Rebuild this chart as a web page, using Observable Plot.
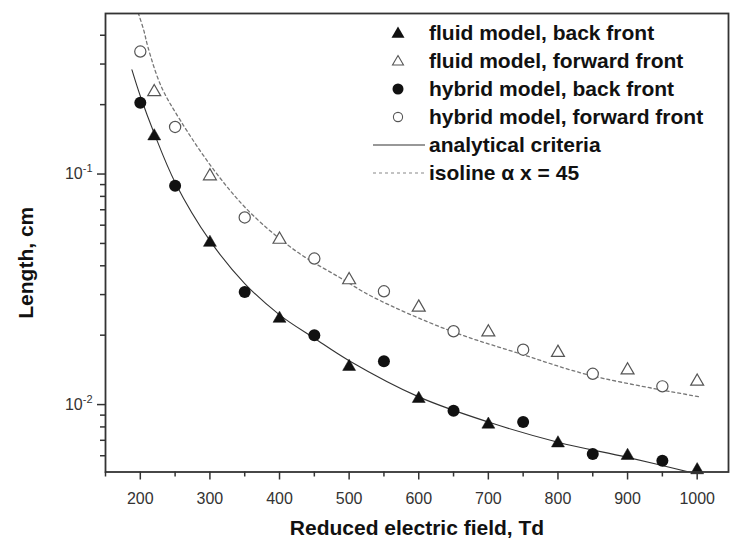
<!DOCTYPE html>
<html><head><meta charset="utf-8">
<script src="https://cdn.jsdelivr.net/npm/d3@7"></script>
<script src="https://cdn.jsdelivr.net/npm/@observablehq/plot@0.6"></script>
<style>
body{margin:0;background:#fff;}
#wrap{position:relative;width:730px;height:540px;font-family:"Liberation Sans",Arial,sans-serif;}
#legend{position:absolute;left:365px;top:19px;}
.row{height:28px;display:flex;align-items:center;font-weight:bold;font-size:21px;color:#111;white-space:nowrap;}
.row svg{flex:none;}
</style>
</head><body>
<div id="wrap"><div id="chart"></div><div id="legend"></div></div>
<script>
// ---- data ----
const fieldTriangles = [220, 300, 400, 500, 600, 700, 800, 900, 1000];
const fluidBack      = [0.146, 0.0504, 0.0236, 0.0146, 0.0106, 0.0082, 0.0068, 0.0060, 0.0052];
const fluidForward   = [0.227, 0.098, 0.052, 0.0347, 0.0264, 0.0206, 0.0168, 0.0141, 0.0126];
const fieldCircles   = [200, 250, 350, 450, 550, 650, 750, 850, 950];
const hybridBack     = [0.204, 0.089, 0.0308, 0.0200, 0.0154, 0.0094, 0.0084, 0.0061, 0.0057];
const hybridForward  = [0.340, 0.160, 0.0648, 0.043, 0.031, 0.0208, 0.0173, 0.0136, 0.0120];
const analyticX = [188, 200, 220, 250, 300, 350, 400, 450, 500, 600, 700, 800, 900, 1000];
const analyticL = [0.283, 0.218, 0.150, 0.092, 0.0514, 0.0335, 0.0245, 0.0194, 0.0155, 0.0108, 0.0084, 0.00687, 0.0059, 0.0050];
const isoX = [197, 205, 211, 230, 258, 308, 358, 425, 487, 535, 645, 746, 846, 1004];
const isoL = [0.50, 0.42, 0.355, 0.24, 0.17, 0.102, 0.068, 0.046, 0.0355, 0.0292, 0.0209, 0.0166, 0.0134, 0.0108];
const xMajorTicks = [200, 300, 400, 500, 600, 700, 800, 900, 1000];
const xMinorTicks = [150, 250, 350, 450, 550, 650, 750, 850, 950];
const yMajorTicks = [0.1, 0.01];
const yMinorTicks = [0.4, 0.3, 0.2, 0.09, 0.08, 0.07, 0.06, 0.05, 0.04, 0.03, 0.02, 0.009, 0.008, 0.007, 0.006];
const xTitle = "Reduced electric field, Td";
const yTitle = "Length, cm";
const legendLabels = ["fluid model, back front", "fluid model, forward front", "hybrid model, back front", "hybrid model, forward front", "analytical criteria", "isoline \u03b1 x = 45"];

const pts = (xs, ys) => xs.map((x, i) => ({x, y: ys[i]}));
const ink = "#111", axisInk = "#333";

const chart = Plot.plot({
  width: 730, height: 540,
  marginTop: 13, marginBottom: 68.5, marginLeft: 105, marginRight: 2,
  style: {fontFamily: '"Liberation Sans", Arial, sans-serif', color: axisInk, background: "white"},
  x: {domain: [150, 1045]},
  y: {type: "log", domain: [0.0051, 0.497]},
  marks: [
    Plot.line(pts(analyticX, analyticL), {x: "x", y: "y", stroke: "#333", strokeWidth: 1.1, curve: "catmull-rom", clip: true}),
    Plot.line(pts(isoX, isoL), {x: "x", y: "y", stroke: "#777", strokeWidth: 1.3, strokeDasharray: "3,3", curve: "catmull-rom", clip: true}),
    Plot.dot(pts(fieldTriangles, fluidForward), {x: "x", y: "y", symbol: "triangle", r: 4.8, fill: "white", stroke: "#555", strokeWidth: 1.2}),
    Plot.dot(pts(fieldCircles, hybridForward), {x: "x", y: "y", symbol: "circle", r: 5.6, fill: "white", stroke: "#555", strokeWidth: 1.2}),
    Plot.dot(pts(fieldTriangles, fluidBack), {x: "x", y: "y", symbol: "triangle", r: 4.8, fill: ink, stroke: ink, strokeWidth: 0.5}),
    Plot.dot(pts(fieldCircles, hybridBack), {x: "x", y: "y", symbol: "circle", r: 6, fill: ink, stroke: "none"}),
    Plot.frame({stroke: axisInk, strokeWidth: 1.8}),
    Plot.axisX(xMajorTicks, {tickSize: 8, tickPadding: 13, fontSize: 16, tickFormat: d => String(d), label: null, stroke: axisInk, strokeWidth: 1.5}),
    Plot.axisX(xMinorTicks, {tickSize: 5, tickFormat: () => "", label: null, stroke: axisInk, strokeWidth: 1.5}),
    Plot.axisY(yMajorTicks, {tickSize: 8, tickPadding: 5, fontSize: 16, tickFormat: d => "10^" + Math.round(Math.log10(d)), label: null, stroke: axisInk, strokeWidth: 1.5}),
    Plot.axisY(yMinorTicks, {tickSize: 5, tickFormat: () => "", label: null, stroke: axisInk, strokeWidth: 1.5}),
    Plot.text([xTitle], {text: d => d, frameAnchor: "bottom", lineAnchor: "middle", textAnchor: "middle", dy: 56.5, fontSize: 21, fontWeight: "bold", fill: ink}),
    Plot.text([yTitle], {text: d => d, frameAnchor: "left", lineAnchor: "middle", textAnchor: "middle", dx: -79, dy: 20, rotate: -90, fontSize: 21, fontWeight: "bold", fill: ink})
  ]
});

// superscript exponents on the log-axis labels
chart.querySelectorAll("text").forEach(t => {
  const m = /^10\^(-?\d+)$/.exec(t.textContent);
  if (m) {
    t.textContent = "10";
    const s = document.createElementNS("http://www.w3.org/2000/svg", "tspan");
    s.setAttribute("dy", "-7");
    s.setAttribute("font-size", "11");
    s.textContent = m[1];
    t.appendChild(s);
  }
});
document.getElementById("chart").appendChild(chart);

// legend
const legend = document.getElementById("legend");
const sym = [
  '<path d="M33,7.5 L39.5,18.75 L26.5,18.75 Z" fill="#111"/>',
  '<path d="M33,8.5 L38.5,18 L27.5,18 Z" fill="white" stroke="#555" stroke-width="1.1"/>',
  '<circle cx="33" cy="14" r="5.5" fill="#111"/>',
  '<circle cx="33" cy="14" r="4.6" fill="white" stroke="#555" stroke-width="1.1"/>',
  '<line x1="8" x2="60" y1="14" y2="14" stroke="#333" stroke-width="1.1"/>',
  '<line x1="8" x2="60" y1="14" y2="14" stroke="#888" stroke-width="1.2" stroke-dasharray="3,3"/>'
];
legendLabels.forEach((lab, i) => {
  const row = document.createElement("div");
  row.className = "row";
  row.innerHTML = '<svg width="64" height="28">' + sym[i] + '</svg>';
  const span = document.createElement("span");
  span.textContent = lab;
  row.appendChild(span);
  legend.appendChild(row);
});
</script>
</body></html>
